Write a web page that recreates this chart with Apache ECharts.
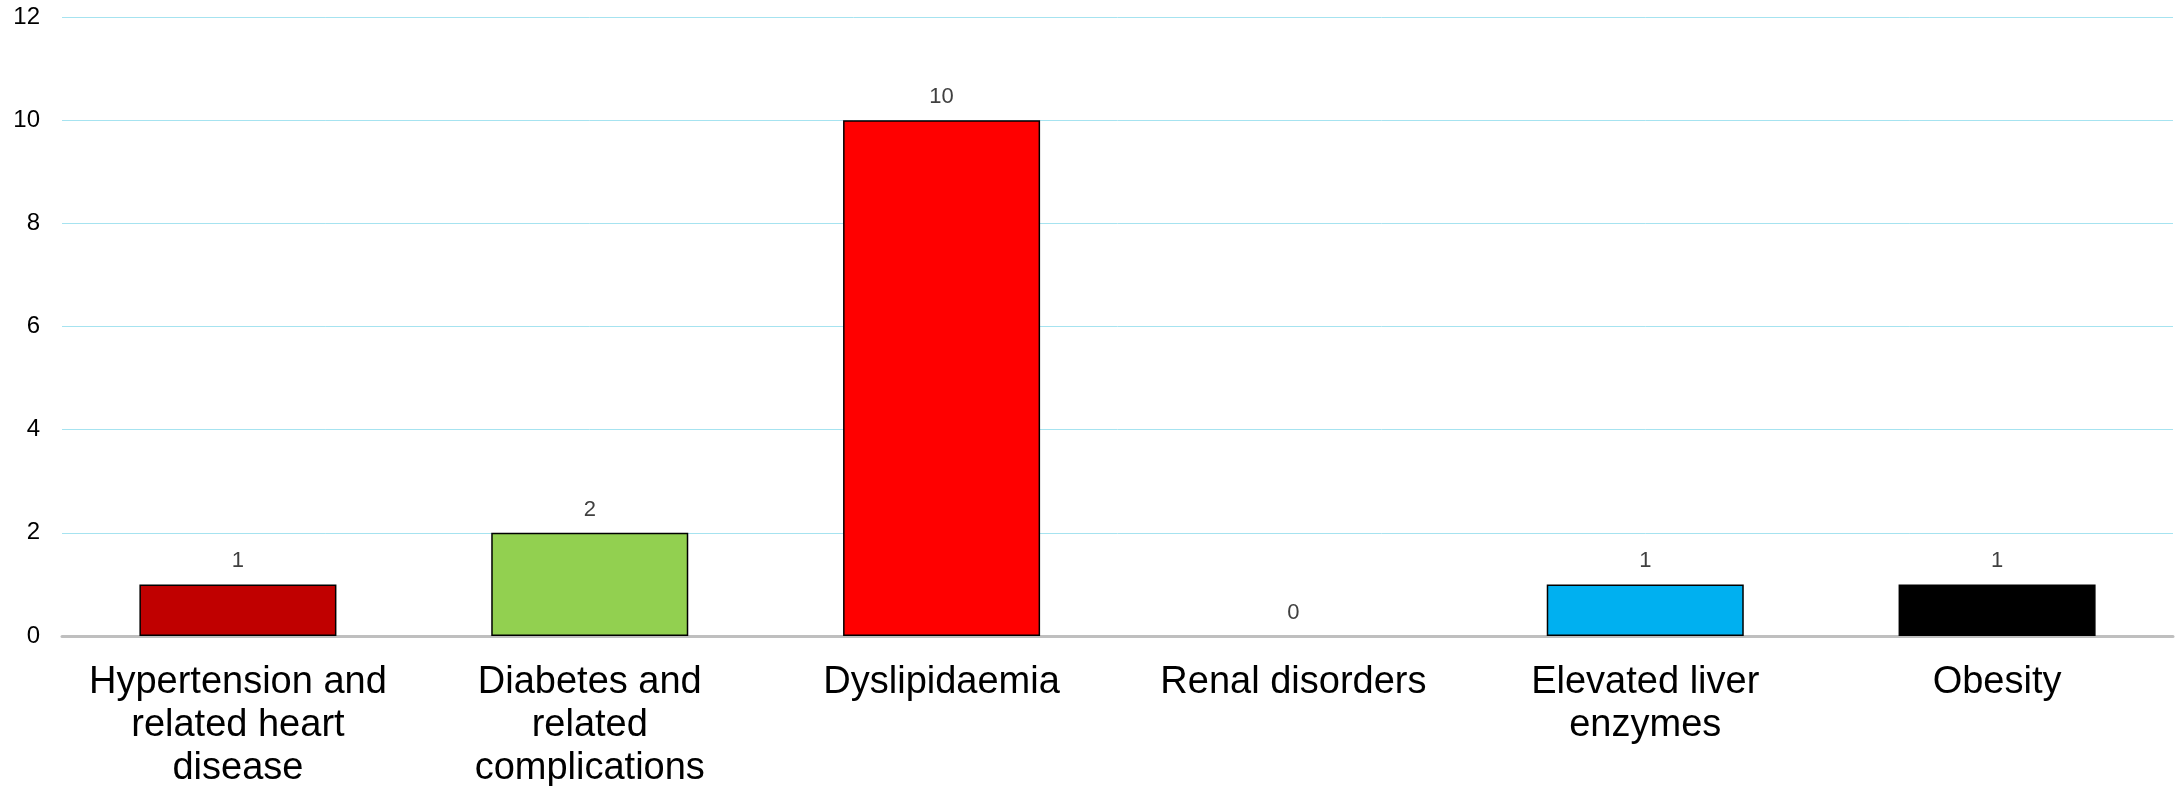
<!DOCTYPE html>
<html>
<head>
<meta charset="utf-8">
<script src="https://cdn.jsdelivr.net/npm/echarts@6/dist/echarts.min.js"></script>
<style>
  html, body { margin: 0; padding: 0; background: #ffffff; }
  #chart { width: 2176px; height: 786px; }
</style>
</head>
<body>
<div id="chart"></div>
<script>
// Conditions and the number of cases for each
const categories = [
  'Hypertension and\nrelated heart\ndisease',
  'Diabetes and\nrelated\ncomplications',
  'Dyslipidaemia',
  'Renal disorders',
  'Elevated liver\nenzymes',
  'Obesity'
];
const counts = [1, 2, 10, 0, 1, 1];
const barColors = ['#C00000', '#92D050', '#FF0000', '#A5A5A5', '#00B0F0', '#000000'];
const yTicks = { min: 0, max: 12, interval: 2 };

const chart = echarts.init(document.getElementById('chart'));

const seriesData = counts.map((v, i) => ({
  value: v,
  itemStyle: {
    color: barColors[i],
    borderColor: v === 0 ? 'transparent' : '#000000',
    borderWidth: v === 0 ? 0 : 1.5
  }
}));

chart.setOption({
  animation: false,
  backgroundColor: '#ffffff',
  grid: {
    left: 62, right: 3, top: 17, bottom: 150,
    containLabel: false,
    outerBoundsMode: 'none'
  },
  xAxis: {
    type: 'category',
    data: categories,
    axisLine: { show: true, lineStyle: { color: '#bfbfbf', width: 3 } },
    axisTick: { show: false },
    axisLabel: {
      interval: 0,
      margin: 25,
      color: '#000000',
      fontFamily: 'Liberation Sans, Arial, sans-serif',
      fontSize: 38,
      lineHeight: 43
    }
  },
  yAxis: {
    type: 'value',
    min: yTicks.min,
    max: yTicks.max,
    interval: yTicks.interval,
    axisLine: { show: false },
    axisTick: { show: false },
    splitLine: { lineStyle: { color: '#a6e3f0', width: 1 } },
    axisLabel: {
      margin: 22,
      color: '#000000',
      fontFamily: 'Liberation Sans, Arial, sans-serif',
      fontSize: 24
    }
  },
  series: [{
    type: 'bar',
    data: seriesData,
    barWidth: '56%',
    label: {
      show: true,
      position: 'top',
      distance: 12,
      color: '#404040',
      fontFamily: 'Liberation Sans, Arial, sans-serif',
      fontSize: 22
    }
  }]
});
</script>
</body>
</html>
